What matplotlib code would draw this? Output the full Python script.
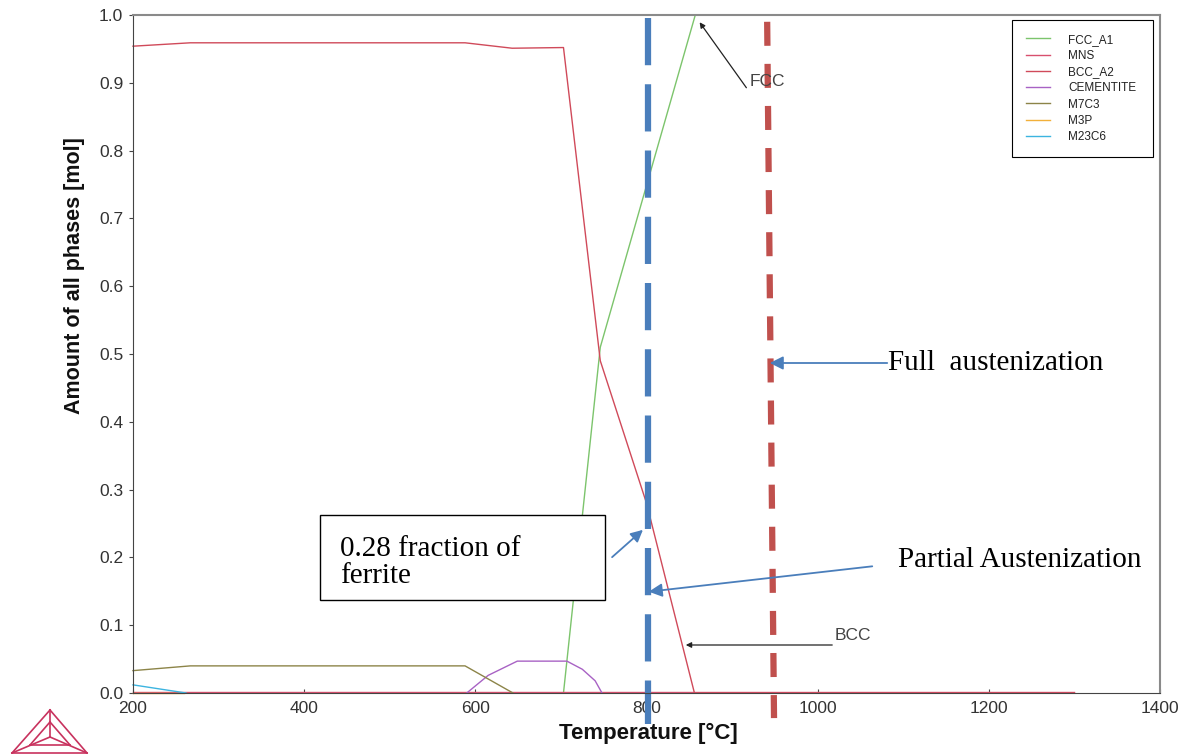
import numpy as np
import matplotlib.pyplot as plt
from matplotlib.patches import Rectangle
from matplotlib.lines import Line2D

plt.rcParams['lines.scale_dashes'] = False
plt.rcParams['font.family'] = ['Liberation Sans', 'DejaVu Sans']

# phase amounts
T_fcc = [703, 746, 857, 1300]
fcc = [0.0, 0.51, 1.0, 1.0]

T_mns = [200, 1300]
mns = [0.001, 0.001]

T_bcc = [200, 267, 588, 643, 703, 746, 800, 856, 1300]
bcc = [0.954, 0.959, 0.959, 0.951, 0.952, 0.49, 0.28, 0.0, 0.0]

T_cem = [590, 615, 649, 707, 725, 740, 748]
cem = [0.0, 0.026, 0.047, 0.047, 0.035, 0.018, 0.0]

T_m7c3 = [200, 267, 588, 644]
m7c3 = [0.033, 0.040, 0.040, 0.0]

T_m3p = [200, 260]
m3p = [0.0, 0.0]

T_m23c6 = [200, 262]
m23c6 = [0.012, 0.0]

phases = ['FCC_A1', 'MNS', 'BCC_A2', 'CEMENTITE', 'M7C3', 'M3P', 'M23C6']
colors = ['#7cc46c', '#d8506e', '#d04a5a', '#a862c4', '#8c8448', '#f2b03a', '#3cb4e0']
series = [(T_fcc, fcc), (T_mns, mns), (T_bcc, bcc), (T_cem, cem),
          (T_m7c3, m7c3), (T_m3p, m3p), (T_m23c6, m23c6)]

# marker lines: partial (800) and full austenization
T_partial = [802, 802]
y_partial = [0.996, -0.046]
T_full = [941, 949]
y_full = [0.99, -0.037]

W, H = 1189, 754
fig = plt.figure(figsize=(W/100, H/100), dpi=100)
ax = fig.add_axes([133/W, 1-693/H, 1027/W, 678/H])

for (t, v), name, c in zip(series, phases, colors):
    ax.plot(t, v, color=c, lw=1.0, label=name, clip_on=False)

ax.set_xlim(200, 1400)
ax.set_ylim(0, 1.0)
ax.set_xticks(np.arange(200, 1401, 200))
ax.set_yticks(np.arange(0, 1.01, 0.1))
ax.set_yticklabels(['%.1f' % v for v in np.arange(0, 1.01, 0.1)])
ax.tick_params(axis='y', direction='out', length=3, labelsize=12.5, labelcolor='#333333', color='#444444', pad=4)
ax.tick_params(axis='x', direction='in', length=3, labelsize=12.5, labelcolor='#333333', color='#444444', pad=6)
for s in ['left', 'bottom']:
    ax.spines[s].set_color('#444444')
for s in ['top', 'right']:
    ax.spines[s].set_color('#8a8a8a')
    ax.spines[s].set_linewidth(1.5)

leg = ax.legend(loc='upper left', bbox_to_anchor=(0.8559, 0.9926, 0.1373, 0.0), mode='expand',
                borderaxespad=0, fontsize=8.5, fancybox=False, edgecolor='black',
                framealpha=1, labelspacing=0.36, borderpad=1.15, handlelength=2.1,
                handletextpad=1.5)
leg.get_frame().set_linewidth(0.8)
for txt in leg.get_texts():
    txt.set_color('#222222')

ax.plot(T_partial, y_partial, color='#4a7ebb', lw=4.5, dashes=(34, 13.7), clip_on=False)
ax.plot(T_full, y_full, color='#c0504d', lw=4.5, dashes=(17.3, 13), clip_on=False)

def fp(x, y):
    return (x / W, 1 - y / H)

ff = 'figure fraction'
serif = ['Liberation Serif', 'DejaVu Serif']

# FCC / BCC labels
ax.annotate('', xy=fp(698, 20), xytext=fp(748, 90), xycoords=ff, textcoords=ff,
            arrowprops=dict(arrowstyle='-|>', color='#222222', lw=0.9, mutation_scale=8))
fig.text(*fp(750, 81), 'FCC', fontsize=12.5, color='#444444', va='center', ha='left')
ax.annotate('', xy=fp(683, 645), xytext=fp(835, 645), xycoords=ff, textcoords=ff,
            arrowprops=dict(arrowstyle='-|>', color='#222222', lw=0.9, mutation_scale=8))
fig.text(*fp(835, 635), 'BCC', fontsize=12.5, color='#444444', va='center', ha='left')

# austenization notes
blue = '#4a7ebb'
ax.annotate('', xy=fp(767, 363), xytext=fp(890, 363), xycoords=ff, textcoords=ff,
            arrowprops=dict(arrowstyle='-|>', color=blue, lw=1.3, mutation_scale=20))
fig.text(*fp(888, 363), 'Full  austenization', fontsize=21, family=serif, va='center', ha='left')
ax.annotate('', xy=fp(646, 592), xytext=fp(875, 566), xycoords=ff, textcoords=ff,
            arrowprops=dict(arrowstyle='-|>', color=blue, lw=1.3, mutation_scale=20))
fig.text(*fp(898, 560), 'Partial Austenization', fontsize=21, family=serif, va='center', ha='left')

fig.patches.append(Rectangle(fp(320, 600), 285/W, 85/H, transform=fig.transFigure,
                             fill=True, facecolor='white', edgecolor='black', lw=1.0))
fig.text(*fp(340, 583), '0.28 fraction of\nferrite', fontsize=21, family=serif,
         va='baseline', ha='left', linespacing=1.05)
ax.annotate('', xy=fp(645, 528), xytext=fp(610, 559), xycoords=ff, textcoords=ff,
            arrowprops=dict(arrowstyle='-|>', color=blue, lw=1.3, mutation_scale=18))

# axis titles
fig.text(*fp(75, 276), 'Amount of all phases [mol]', rotation=90, fontsize=15.5,
         fontweight='bold', color='#111111', va='center', ha='center')
fig.text(*fp(648, 733), 'Temperature [°C]', fontsize=16, fontweight='bold',
         color='#111111', va='center', ha='center')

# logo in the corner
lc = '#c8325e'
apex, bl, br, ctr = (50, 710), (12, 753), (87, 753), (50, 737)
segs = [(apex, bl), (bl, br), (br, apex), (apex, ctr), (ctr, bl), (ctr, br),
        ((50, 722), (30, 745)), ((50, 722), (70, 745)), ((30, 745), (70, 745))]
for a, b in segs:
    fig.add_artist(Line2D([a[0]/W, b[0]/W], [1-a[1]/H, 1-b[1]/H], color=lc, lw=1.2,
                          transform=fig.transFigure))

fig.savefig('out.png', dpi=100)
